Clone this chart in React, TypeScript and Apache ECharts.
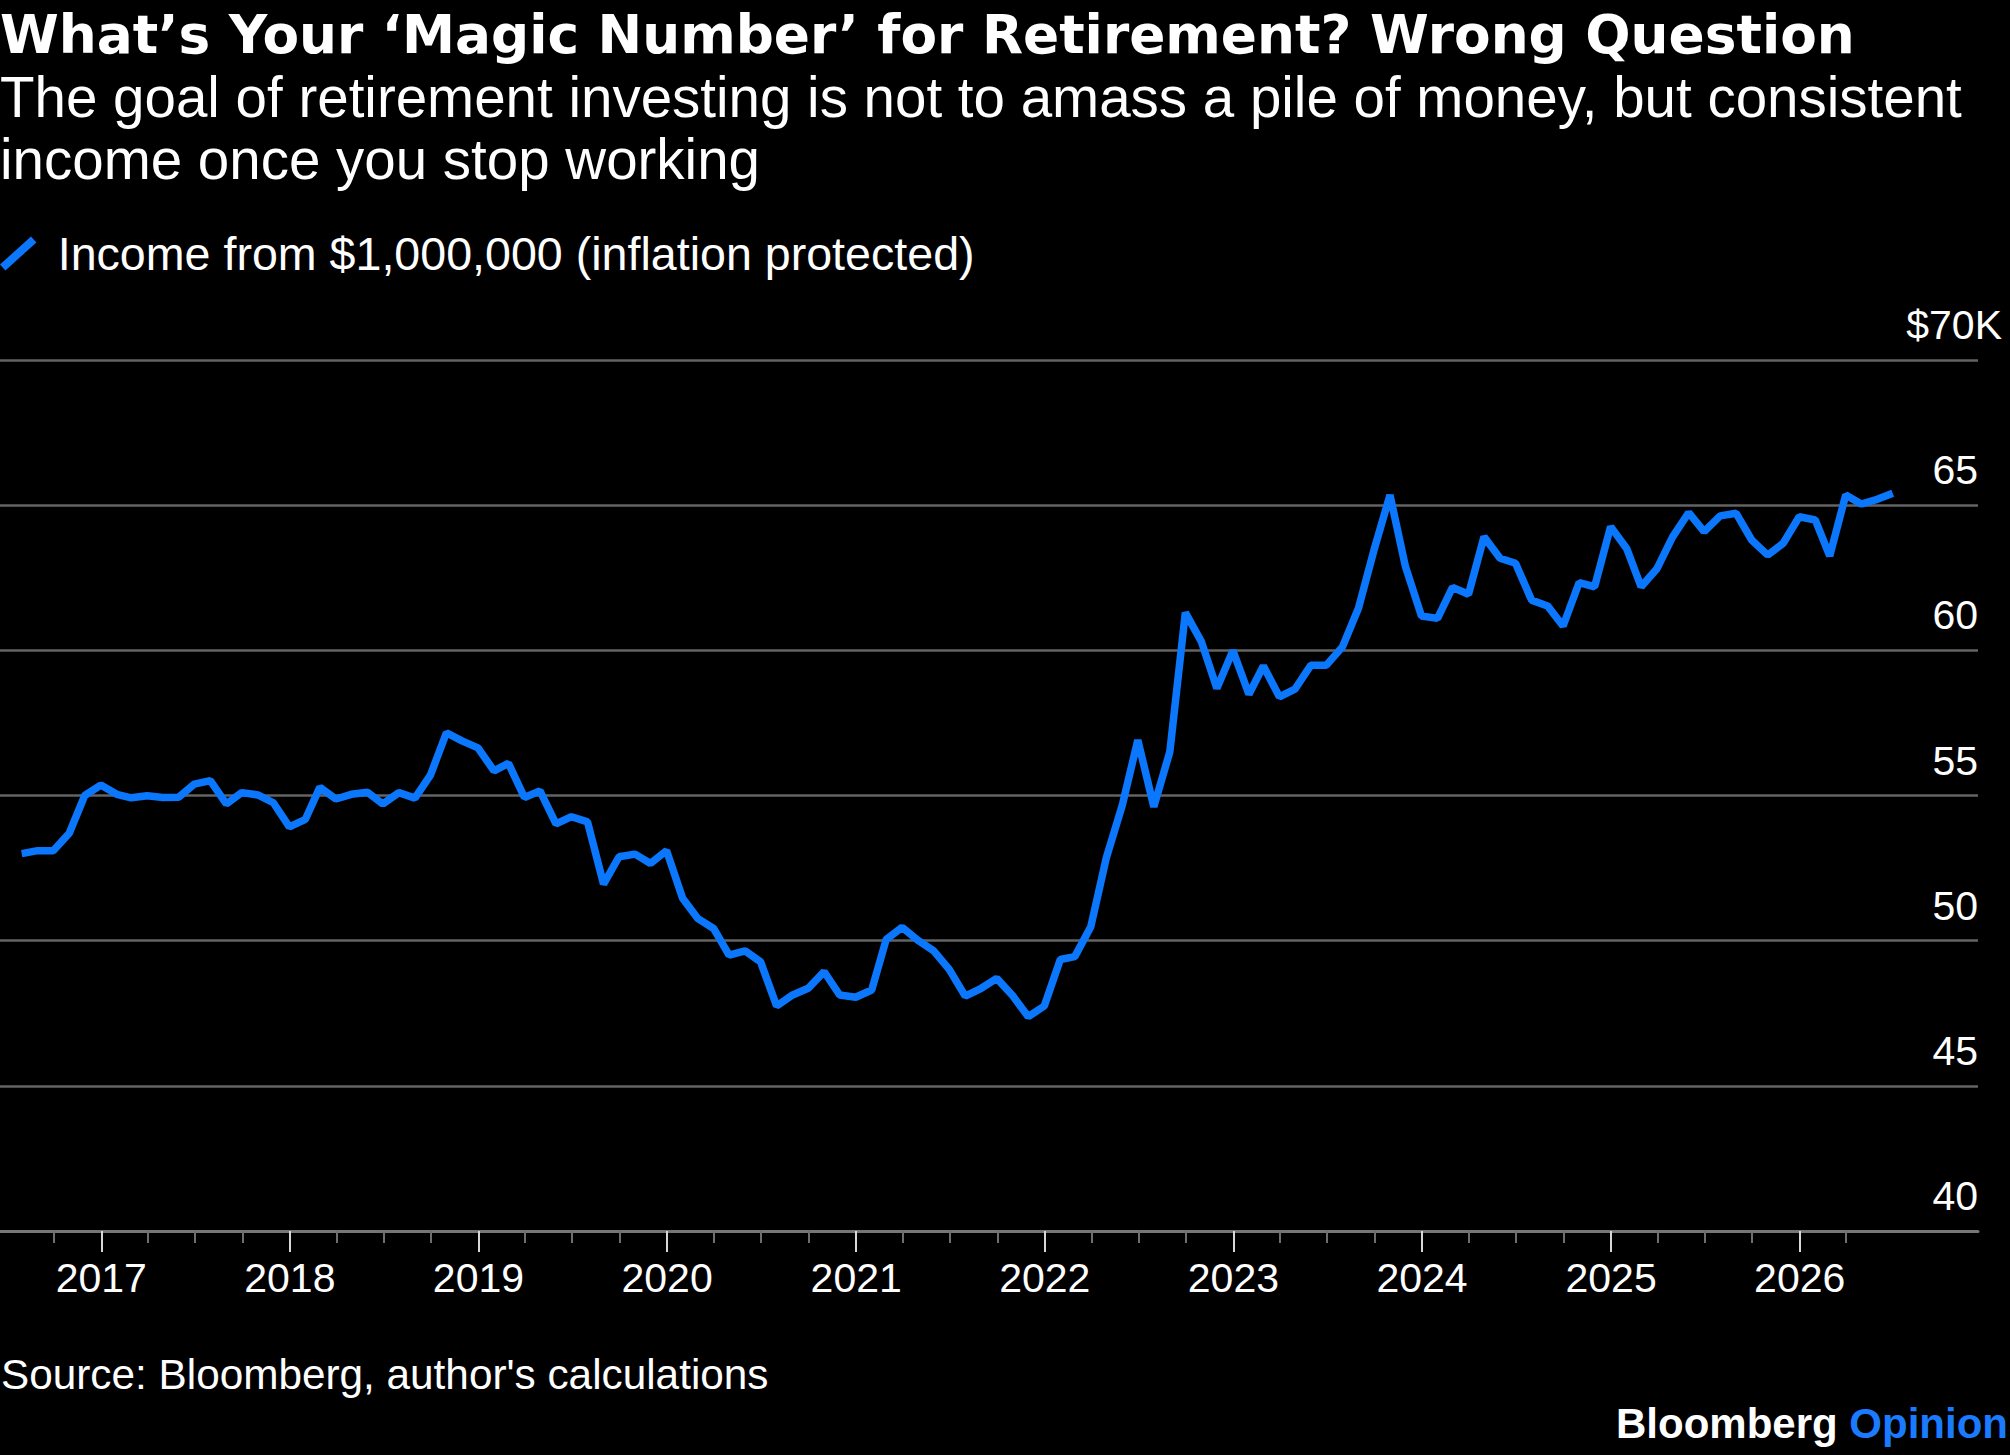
import React, { useEffect, useRef } from "react";
import * as echarts from "echarts";

// Monthly observations, month-end, starting July 2016
const START_YEAR = 2016;
const START_MONTH = 7;

// Annual income (thousands of dollars) from $1,000,000, inflation protected
const income = [
  53.0, 53.1, 53.1, 53.7, 55.0, 55.36,
  55.04, 54.92, 54.99, 54.93, 54.94, 55.39, 55.51, 54.71, 55.1, 55.02, 54.75, 53.92,
  54.18, 55.28, 54.88, 55.04, 55.11, 54.71, 55.1, 54.91, 55.7, 57.16, 56.88, 56.64,
  55.85, 56.11, 54.93, 55.16, 54.02, 54.27, 54.09, 51.95, 52.89, 52.98, 52.66, 53.1,
  51.46, 50.77, 50.42, 49.5, 49.65, 49.27, 47.75, 48.13, 48.36, 48.93, 48.13, 48.05,
  48.3, 50.04, 50.46, 50.02, 49.65, 49.01, 48.09, 48.36, 48.7, 48.1, 47.38, 47.75,
  49.35, 49.45, 50.48, 52.85, 54.67, 56.91, 54.61, 56.51, 61.3, 60.3, 58.69, 59.99,
  58.49, 59.46, 58.4, 58.66, 59.49, 59.49, 60.12, 61.45, 63.45, 65.35, 62.88, 61.18,
  61.1, 62.17, 61.93, 63.91, 63.17, 63.0, 61.73, 61.53, 60.84, 62.33, 62.19, 64.26,
  63.51, 62.19, 62.82, 63.91, 64.74, 64.09, 64.63, 64.72, 63.8, 63.28, 63.69, 64.6,
  64.49, 63.25, 65.35, 65.04, 65.2, 65.41,
];

// Axis ticks
const yearTicks = [2017, 2018, 2019, 2020, 2021, 2022, 2023, 2024, 2025, 2026];
const quarterMonths = [4, 7, 10];
const firstQuarterTick = { year: 2016, month: 10 };
const lastQuarterTick = { year: 2026, month: 4 };
const yTicks = { min: 40, max: 70, step: 5 };

const TITLE = "What\u2019s Your \u2018Magic Number\u2019 for Retirement? Wrong Question";
const SUBTITLE =
  "The goal of retirement investing is not to amass a pile of money, but consistent\nincome once you stop working";
const SERIES_NAME = "Income from $1,000,000 (inflation protected)";
const SOURCE = "Source: Bloomberg, author's calculations";

const BLUE = "#0b77fd";
const OPINION_BLUE = "#1b7bff";
const GRID_GRAY = "#636363";
const SANS = "Liberation Sans";

const monthEnd = (y: number, m: number) => Date.UTC(y, m, 0);
const jan1 = (y: number) => Date.UTC(y, 0, 1);

const dates = income.map((_, i) => monthEnd(START_YEAR, START_MONTH + i));
const yearTs = yearTicks.map(jan1);
const quarterTs: number[] = [];
for (let y = firstQuarterTick.year; y <= lastQuarterTick.year; y++) {
  for (const m of quarterMonths) {
    const key = y * 100 + m;
    if (
      key >= firstQuarterTick.year * 100 + firstQuarterTick.month &&
      key <= lastQuarterTick.year * 100 + lastQuarterTick.month
    ) {
      quarterTs.push(Date.UTC(y, m - 1, 1));
    }
  }
}

// Visible time window of the plot (UTC milliseconds)
const X_MIN = Date.UTC(2016, 5, 19);
const X_MAX = Date.UTC(2026, 11, 12);

export default function App() {
  const ref = useRef<HTMLDivElement>(null);

  useEffect(() => {
    if (!ref.current) return;
    const chart = echarts.init(ref.current, undefined, { renderer: "svg" });

    const option: any = {
      animation: false,
      backgroundColor: "#000000",
      grid: { left: 0, right: 32, top: 360, bottom: 224 },
      legend: {
        show: true,
        left: 0,
        top: 230,
        padding: 0,
        selectedMode: false,
        itemWidth: 37,
        itemHeight: 34,
        icon: "path://M0.3,28 L5.7,34 L36.7,6 L31.3,0 Z",
        itemStyle: { borderWidth: 0 },
        textStyle: {
          color: "#ffffff",
          fontSize: 46.6,
          fontFamily: SANS,
          padding: [0, 0, 0, 16],
        },
        data: [SERIES_NAME],
      },
      xAxis: [
        {
          type: "value",
          position: "bottom",
          min: X_MIN,
          max: X_MAX,
          axisLine: { show: true, lineStyle: { color: "#767676", width: 3 } },
          axisTick: {
            show: true,
            customValues: yearTs,
            length: 21,
            lineStyle: { color: "#d8d8d8", width: 2 },
          },
          axisLabel: {
            show: true,
            customValues: yearTs,
            formatter: (v: number) => String(new Date(v).getUTCFullYear()),
            color: "#ffffff",
            fontSize: 41,
            fontFamily: SANS,
            margin: 26,
          },
          splitLine: { show: false },
        },
        {
          type: "value",
          position: "bottom",
          min: X_MIN,
          max: X_MAX,
          axisLine: { show: false },
          axisTick: {
            show: true,
            customValues: quarterTs,
            length: 12,
            lineStyle: { color: "#6e6e6e", width: 2 },
          },
          axisLabel: { show: false },
          splitLine: { show: false },
        },
      ],
      yAxis: {
        type: "value",
        position: "right",
        min: yTicks.min,
        max: yTicks.max,
        interval: yTicks.step,
        axisLine: { show: false },
        axisTick: { show: false },
        splitLine: { show: true, lineStyle: { color: GRID_GRAY, width: 2.5 } },
        axisLabel: {
          inside: true,
          margin: -24,
          align: "right",
          verticalAlign: "bottom",
          formatter: (v: number) => (v === yTicks.max ? `{k|$${v}K}` : `{n|${v}}`),
          rich: {
            n: { color: "#ffffff", fontSize: 41, fontFamily: SANS, lineHeight: 70, padding: [0, 24, 0, 0] },
            k: { color: "#ffffff", fontSize: 41, fontFamily: SANS, lineHeight: 70 },
          },
        },
      },
      series: [
        {
          type: "line",
          name: SERIES_NAME,
          xAxisIndex: 0,
          yAxisIndex: 0,
          data: dates.map((d, i) => [d, income[i]]),
          showSymbol: false,
          symbol: "none",
          lineStyle: { color: BLUE, width: 7.5 },
          itemStyle: { color: BLUE },
          z: 3,
        },
      ],
      graphic: [
        {
          type: "text",
          x: 0,
          y: 35,
          style: {
            text: TITLE,
            fill: "#ffffff",
            fontFamily: "DejaVu Sans",
            fontWeight: "bold",
            fontSize: 53.3,
            align: "left",
            verticalAlign: "middle",
          },
        },
        {
          type: "text",
          x: 0,
          y: 66,
          style: {
            text: SUBTITLE,
            fill: "#ffffff",
            fontFamily: SANS,
            fontSize: 56.5,
            lineHeight: 62,
            align: "left",
            verticalAlign: "top",
          },
        },
        {
          type: "text",
          x: 1,
          y: 1374,
          style: {
            text: SOURCE,
            fill: "#ffffff",
            fontFamily: SANS,
            fontSize: 42.3,
            align: "left",
            verticalAlign: "middle",
          },
        },
        {
          type: "text",
          x: 2008,
          y: 1423,
          style: {
            text: "{w|Bloomberg} {o|Opinion}",
            fill: "#ffffff",
            fontFamily: SANS,
            fontWeight: "bold",
            fontSize: 42,
            align: "right",
            verticalAlign: "middle",
            rich: {
              w: { fill: "#ffffff", fontFamily: SANS, fontWeight: "bold", fontSize: 42 },
              o: { fill: OPINION_BLUE, fontFamily: SANS, fontWeight: "bold", fontSize: 42 },
            },
          },
        },
      ],
    };

    chart.setOption(option);
    return () => chart.dispose();
  }, []);

  return (
    <div
      ref={ref}
      style={{ position: "fixed", left: 0, top: 0, width: 2010, height: 1455, background: "#000" }}
    />
  );
}
